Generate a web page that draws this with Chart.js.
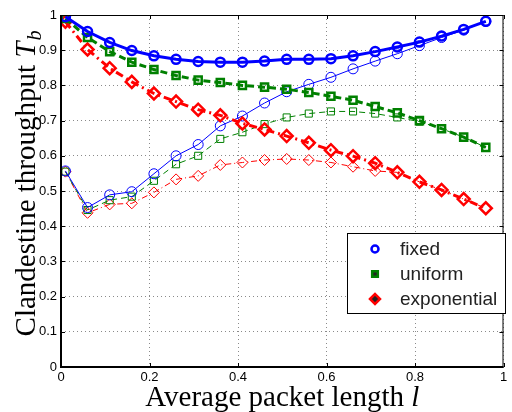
<!DOCTYPE html>
<html>
<head>
<meta charset="utf-8">
<script src="https://cdn.jsdelivr.net/npm/chart.js@4.4.1/dist/chart.umd.min.js"></script>
<style>
  html, body { margin: 0; padding: 0; background: #fff; }
  #wrap { width: 512px; height: 412px; }
</style>
</head>
<body>
<div id="wrap"><canvas id="c" width="512" height="412"></canvas></div>
<script>
// average packet length l (x)
const xs = [0.01, 0.06, 0.11, 0.16, 0.21, 0.26, 0.31, 0.36, 0.41, 0.46,
  0.51, 0.56, 0.61, 0.66, 0.71, 0.76, 0.81, 0.86, 0.91, 0.96];

// thick curves
const fixedThick = [0.995, 0.953, 0.922, 0.899, 0.884, 0.874, 0.868, 0.866, 0.866, 0.869,
  0.874, 0.874, 0.876, 0.884, 0.896, 0.909, 0.923, 0.940, 0.959, 0.982];
const uniformThick = [0.99, 0.936, 0.896, 0.866, 0.845, 0.828, 0.815, 0.808, 0.800, 0.795,
  0.789, 0.780, 0.769, 0.758, 0.740, 0.722, 0.700, 0.677, 0.653, 0.624];
const expThick = [0.981, 0.902, 0.849, 0.810, 0.777, 0.754, 0.731, 0.715, 0.692, 0.675,
  0.656, 0.637, 0.616, 0.599, 0.579, 0.553, 0.526, 0.503, 0.477, 0.451];

// thin curves
const fixedThin = [0.557, 0.453, 0.489, 0.498, 0.549, 0.600, 0.632, 0.685, 0.713, 0.750,
  0.782, 0.803, 0.823, 0.847, 0.869, 0.890, 0.913, 0.936, 0.957, 0.982];
const uniformThin = [0.555, 0.446, 0.474, 0.484, 0.529, 0.576, 0.600, 0.648, 0.667, 0.690,
  0.709, 0.720, 0.726, 0.726, 0.720, 0.709, 0.697, 0.677, 0.653, 0.624];
const expThin = [0.555, 0.438, 0.462, 0.465, 0.496, 0.533, 0.543, 0.574, 0.581, 0.588,
  0.591, 0.588, 0.581, 0.569, 0.557, 0.553, 0.526, 0.503, 0.477, 0.451];

const xTicks = [0, 0.2, 0.4, 0.6, 0.8, 1];
const yTicks = [0, 0.1, 0.2, 0.3, 0.4, 0.5, 0.6, 0.7, 0.8, 0.9, 1];
const legendLabels = ['fixed', 'uniform', 'exponential'];

const BLUE = '#0000ff', GREEN = '#008000', RED = '#ff0000';
const pts = (ys) => ys.map((y, i) => ({ x: xs[i], y }));

function series(label, ys, color, style, thick, dash, radius, order) {
  return {
    label, data: pts(ys), order,
    borderColor: color, borderWidth: thick ? 3 : 1, borderDash: dash,
    pointStyle: style, pointRadius: radius, pointBorderWidth: thick ? 2.5 : 1,
    pointBorderColor: color, pointBackgroundColor: 'rgba(0,0,0,0)',
    showLine: true, tension: 0, fill: false,
  };
}

// axis titles, frame, inset legend
const deco = {
  id: 'deco',
  afterDraw(chart) {
    const { ctx, chartArea: a } = chart;
    ctx.save();
    // frame
    ctx.strokeStyle = '#000'; ctx.lineWidth = 1;
    ctx.strokeRect(a.left + 0.5, a.top + 0.5, a.right - a.left - 1, a.bottom - a.top - 1);
    ctx.lineWidth = 2;
    ctx.beginPath(); ctx.moveTo(a.left, a.top); ctx.lineTo(a.left, a.bottom); ctx.lineTo(a.right, a.bottom); ctx.stroke();
    // inward tick marks
    ctx.lineWidth = 1;
    const sx = chart.scales.x, sy = chart.scales.y;
    xTicks.forEach(v => {
      const px = Math.round(sx.getPixelForValue(v)) + 0.5;
      ctx.beginPath(); ctx.moveTo(px, a.bottom); ctx.lineTo(px, a.bottom - 4);
      ctx.moveTo(px, a.top); ctx.lineTo(px, a.top + 4); ctx.stroke();
    });
    yTicks.forEach(v => {
      const py = Math.round(sy.getPixelForValue(v)) + 0.5;
      ctx.beginPath(); ctx.moveTo(a.left, py); ctx.lineTo(a.left + 4, py);
      ctx.moveTo(a.right, py); ctx.lineTo(a.right - 4, py); ctx.stroke();
    });

    // x title
    ctx.fillStyle = '#000'; ctx.textBaseline = 'alphabetic';
    const f1 = '29px "Liberation Serif", serif', f2 = 'italic 29px "Liberation Serif", serif';
    ctx.font = f1; const w1 = ctx.measureText('Average packet length ').width;
    ctx.font = f2; const w2 = ctx.measureText('l').width;
    let x0 = (a.left + a.right) / 2 - (w1 + w2) / 2;
    ctx.font = f1; ctx.textAlign = 'left'; ctx.fillText('Average packet length ', x0, 406);
    ctx.font = f2; ctx.fillText('l', x0 + w1, 406);

    // y title (rotated)
    ctx.save();
    ctx.translate(35, (a.top + a.bottom) / 2 - 7);
    ctx.rotate(-Math.PI / 2);
    ctx.font = f1; const t1 = ctx.measureText('Clandestine throughput ').width;
    ctx.font = f2; const t2 = ctx.measureText('T').width;
    const f3 = 'italic 20px "Liberation Serif", serif';
    ctx.font = f3; const t3 = ctx.measureText('b').width;
    let s = -(t1 + t2 + t3) / 2;
    ctx.font = f1; ctx.fillText('Clandestine throughput ', s, 0);
    ctx.font = f2; ctx.fillText('T', s + t1, 0);
    ctx.font = f3; ctx.fillText('b', s + t1 + t2 + 1, 6);
    ctx.restore();

    // legend box
    const lx = 347, ly = 233, lw = 158, lh = 80;
    ctx.fillStyle = '#fff'; ctx.fillRect(lx, ly, lw, lh);
    ctx.strokeStyle = '#000'; ctx.lineWidth = 1;
    ctx.strokeRect(lx + 0.5, ly + 0.5, lw, lh);
    const marks = [[BLUE, 'circle', 3.5], [GREEN, 'rect', 4], [RED, 'rectRot', 5]];
    ctx.font = '19px "Liberation Sans", Arial, sans-serif';
    ctx.textBaseline = 'middle';
    legendLabels.forEach((lab, i) => {
      const cy = ly + 16 + i * 25;
      ctx.strokeStyle = marks[i][0]; ctx.lineWidth = 2.5;
      Chart.helpers.drawPoint(ctx, { pointStyle: marks[i][1], radius: marks[i][2], borderWidth: 2.5 }, 375, cy);
      ctx.fillStyle = '#222'; ctx.textAlign = 'left';
      ctx.fillText(lab, 400, cy + 1);
    });
    ctx.restore();
  },
};

new Chart(document.getElementById('c').getContext('2d'), {
  type: 'scatter',
  data: {
    datasets: [
      series('fixed', fixedThick, BLUE, 'circle', true, [], 4.5, 1),
      series('uniform', uniformThick, GREEN, 'rect', true, [7, 4], 5, 2),
      series('exponential', expThick, RED, 'rectRot', true, [8, 4, 2, 4], 6, 3),
      series('fixed (thin)', fixedThin, BLUE, 'circle', false, [], 5, 4),
      series('uniform (thin)', uniformThin, GREEN, 'rect', false, [6, 4], 5, 5),
      series('exponential (thin)', expThin, RED, 'rectRot', false, [6, 3, 1, 3], 5.5, 6),
    ],
  },
  options: {
    responsive: false, animation: false, devicePixelRatio: 1,
    layout: { padding: { top: 15, right: 4, left: 0, bottom: 0 } },
    plugins: { legend: { display: false }, tooltip: { enabled: false } },
    scales: {
      x: {
        type: 'linear', min: 0, max: 1,
        afterFit: (s) => { s.height = 45; },
        afterBuildTicks: (s) => { s.ticks = xTicks.map(v => ({ value: v })); },
        ticks: { color: '#000', padding: 3, font: { size: 13, family: '"Liberation Sans", Arial, sans-serif' },
          callback: (v) => String(v) },
        grid: { color: '#8a8a8a', lineWidth: 1, drawTicks: false },
        border: { display: false, dash: [1, 3] },
      },
      y: {
        type: 'linear', min: 0, max: 1,
        afterFit: (s) => { s.width = 61; },
        afterBuildTicks: (s) => { s.ticks = yTicks.map(v => ({ value: v })); },
        ticks: { color: '#000', padding: 4, font: { size: 13, family: '"Liberation Sans", Arial, sans-serif' },
          callback: (v) => String(Math.round(v * 10) / 10) },
        grid: { color: '#8a8a8a', lineWidth: 1, drawTicks: false },
        border: { display: false, dash: [1, 3] },
      },
    },
  },
  plugins: [deco],
});
</script>
</body>
</html>
